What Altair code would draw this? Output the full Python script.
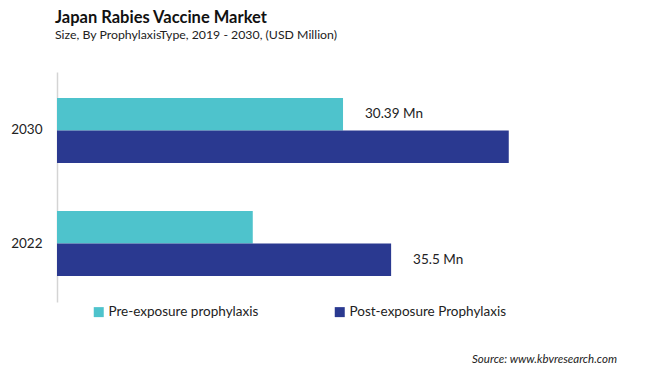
import altair as alt
import pandas as pd

years = ["2030", "2030", "2022", "2022"]
types = ["Pre-exposure prophylaxis", "Post-exposure Prophylaxis",
         "Pre-exposure prophylaxis", "Post-exposure Prophylaxis"]
values = [30.39, 48.0, 20.8, 35.5]
labels = ["30.39 Mn", "", "", "35.5 Mn"]

type_order = ["Pre-exposure prophylaxis", "Post-exposure Prophylaxis"]
year_order = ["2030", "2022"]
colors = ["#4EC3CC", "#2A3990"]

title_text = "Japan Rabies Vaccine Market"
subtitle_text = "Size, By ProphylaxisType, 2019 - 2030, (USD Million)"
source_text = "Source: www.kbvresearch.com"

FONT = "Lato"

df = pd.DataFrame({"year": years, "type": types, "value": values, "label": labels})

x_enc = alt.X("value:Q", scale=alt.Scale(domain=[0, 59.5], nice=False, zero=True), axis=None)
y_enc = alt.Y("year:N", sort=year_order,
              scale=alt.Scale(paddingInner=0.425, paddingOuter=0.23),
              axis=alt.Axis(title=None, ticks=False, labelFontSize=13.5, labelColor="#222222",
                            labelPadding=15, labelFont=FONT, domainColor="#d4d4d4",
                            domainWidth=1.5))
yoff_enc = alt.YOffset("type:N", sort=type_order, scale=alt.Scale(paddingInner=0, paddingOuter=0))

base = alt.Chart(df)

bars = base.mark_bar().encode(
    x=x_enc,
    y=y_enc,
    yOffset=yoff_enc,
    color=alt.Color("type:N", sort=type_order,
                    scale=alt.Scale(domain=type_order, range=colors),
                    legend=alt.Legend(title=None, orient="none", legendX=35, legendY=233,
                                      direction="horizontal", columns=2, columnPadding=74,
                                      symbolType="square", symbolSize=100, symbolStrokeWidth=0,
                                      labelFontSize=13.5, labelFont=FONT, labelColor="#222222",
                                      labelOffset=3)),
)

text = base.mark_text(align="left", baseline="middle", dx=22, fontSize=13.5,
                      font=FONT, color="#222222").encode(
    x=x_enc,
    y=y_enc,
    yOffset=yoff_enc,
    text="label:N",
)

title_df = pd.DataFrame({"t": [title_text]})
sub_df = pd.DataFrame({"t": [subtitle_text]})
src_df = pd.DataFrame({"t": [source_text]})

title = alt.Chart(title_df).mark_text(align="left", baseline="middle", fontSize=16.5,
                                      fontWeight="bold", font=FONT, color="#111111").encode(
    x=alt.value(-2), y=alt.value(-54), text="t:N")
subtitle = alt.Chart(sub_df).mark_text(align="left", baseline="middle", fontSize=12.3,
                                       font=FONT, color="#222222").encode(
    x=alt.value(-2), y=alt.value(-37), text="t:N")
source = alt.Chart(src_df).mark_text(align="right", baseline="middle", fontSize=11.5,
                                     fontStyle="italic", font=FONT, color="#222222").encode(
    x=alt.value(560), y=alt.value(288), text="t:N")

chart = alt.layer(bars, text, title, subtitle, source).properties(
    width=560,
    height=230,
    background="white",
    autosize=alt.AutoSizeParams(type="none"),
    padding={"left": 49, "top": 64, "right": 40, "bottom": 72},
).configure_view(stroke=None)

chart.save("out.html", embed_options={"renderer": "svg", "actions": False})
